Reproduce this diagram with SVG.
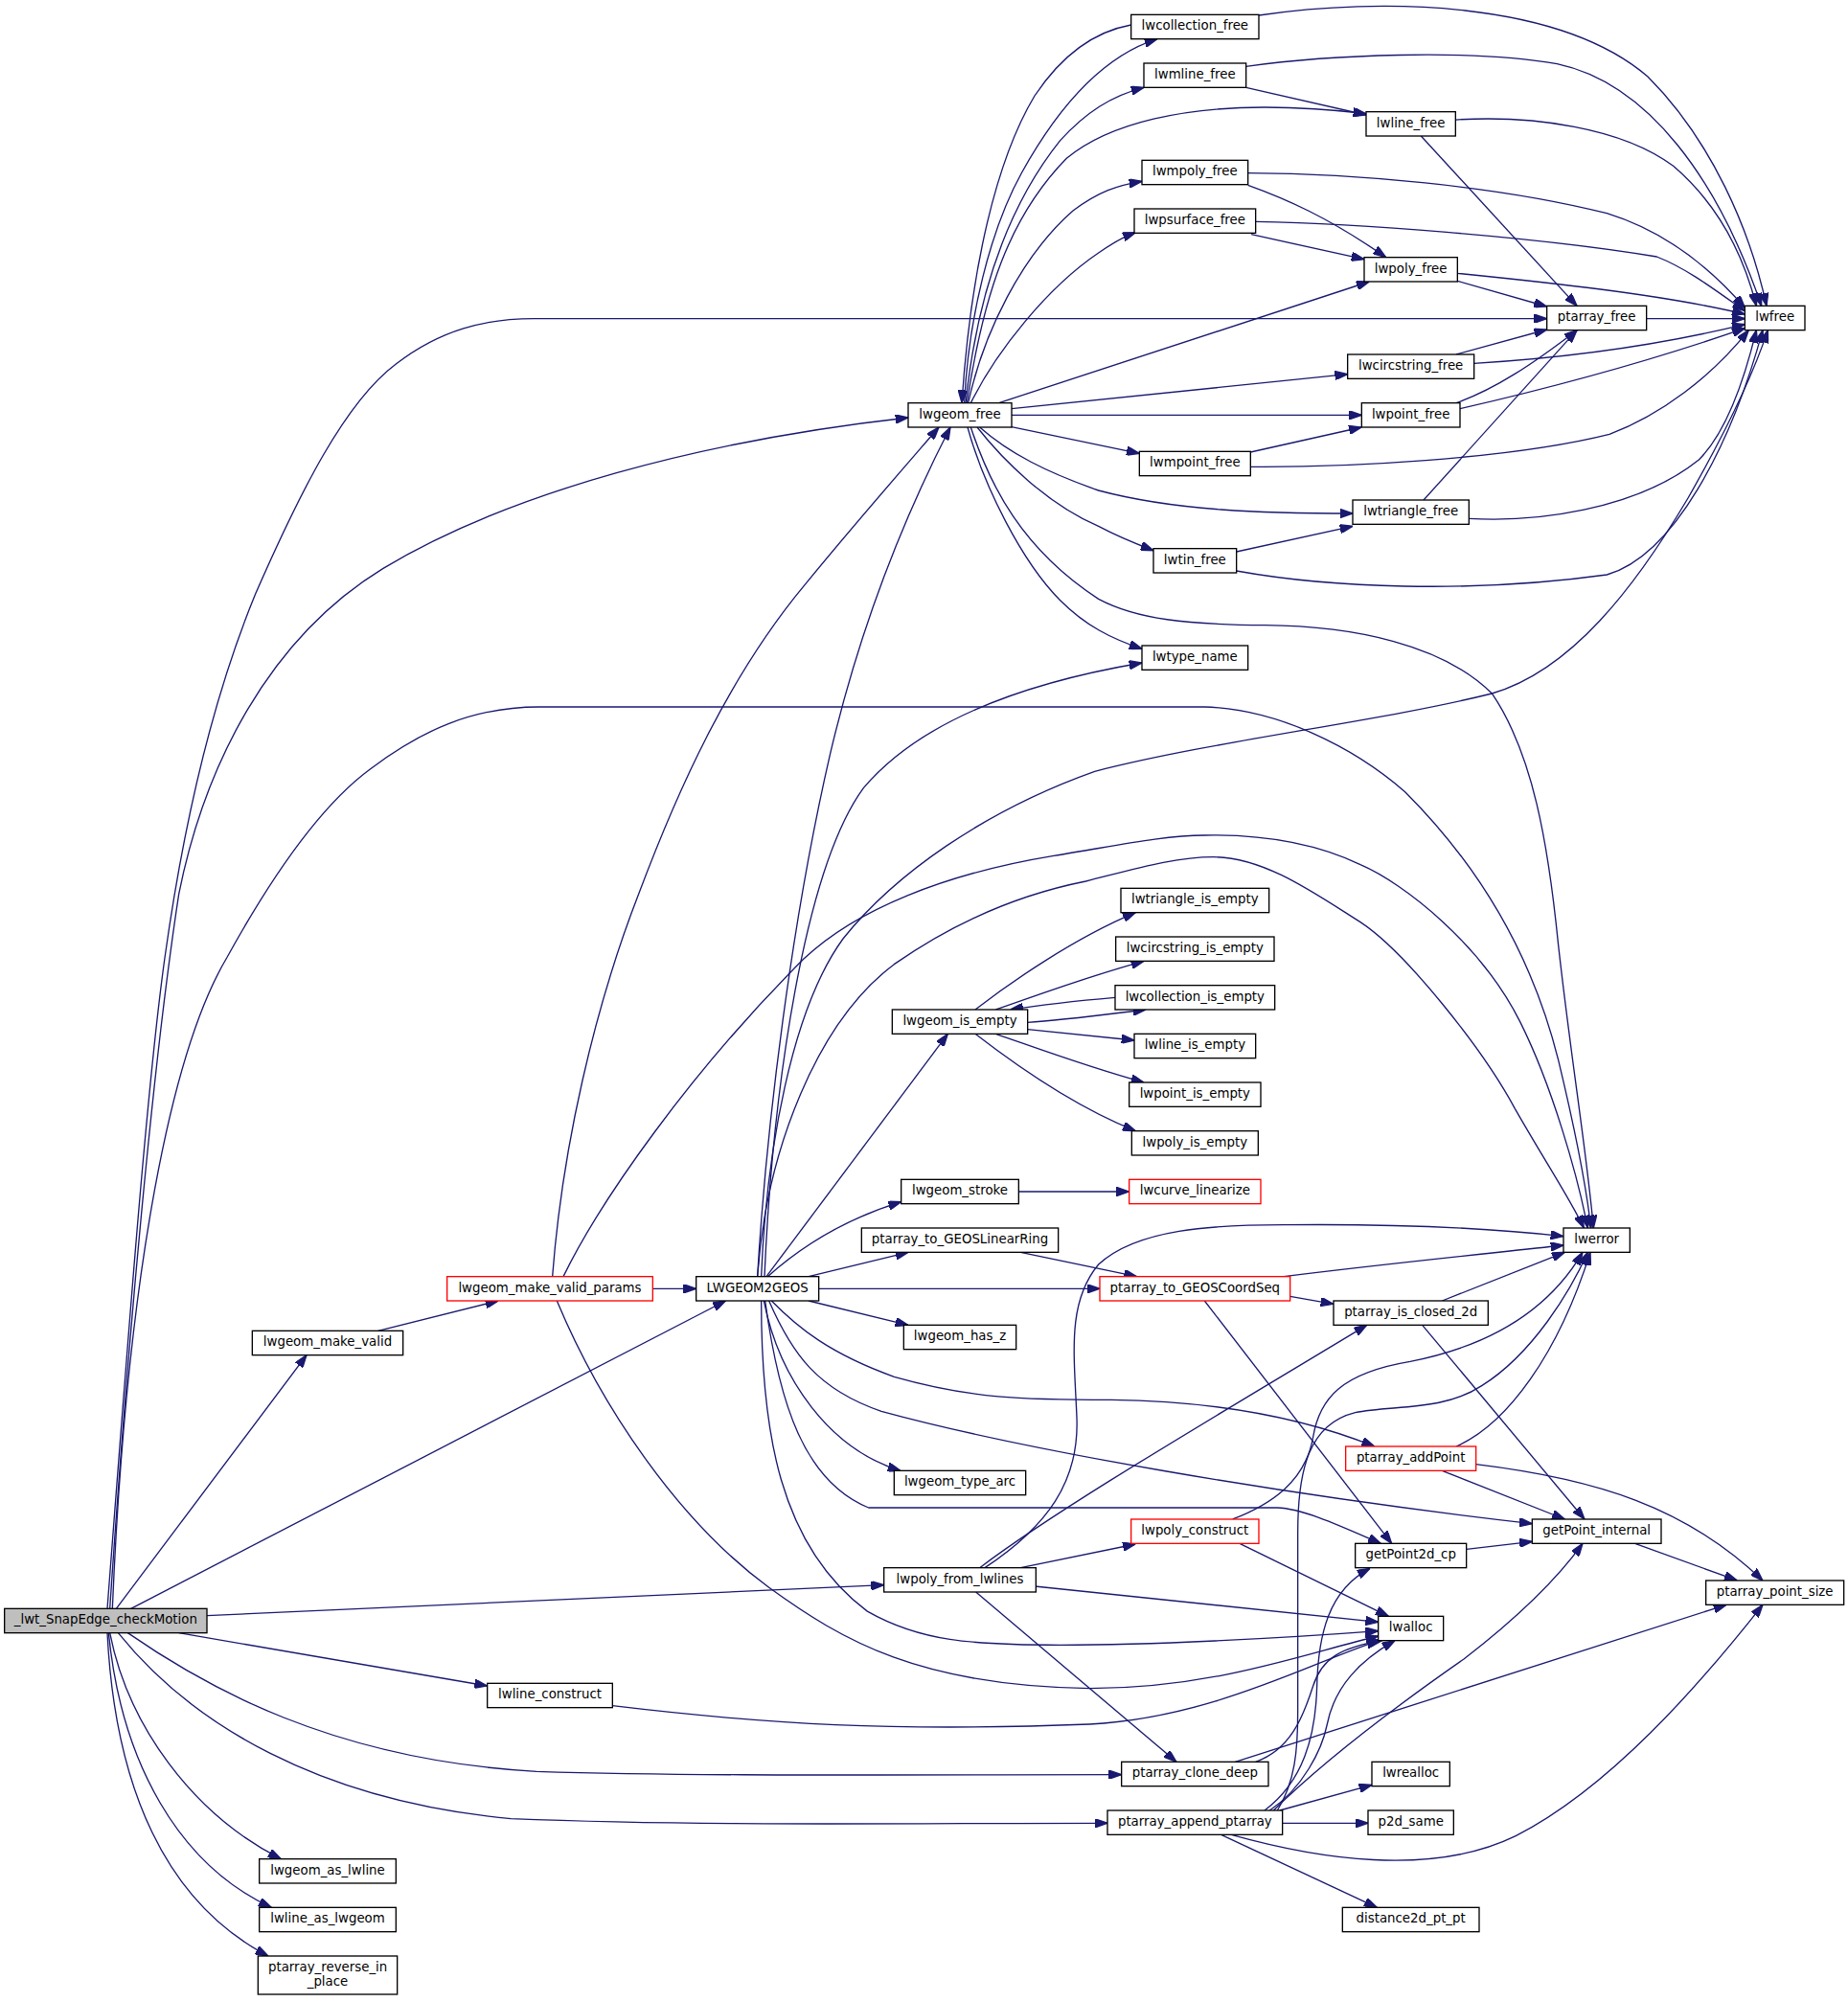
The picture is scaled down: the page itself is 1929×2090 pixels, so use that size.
<svg xmlns="http://www.w3.org/2000/svg" width="1929" height="2090" viewBox="0 0 1929 2090">
<style>
.n rect{fill:#ffffff;stroke:#000000;stroke-width:1}
.r rect{fill:#ffffff;stroke:#ff0000;stroke-width:1}
.m rect{fill:#bfbfbf;stroke:#000000;stroke-width:1}
text{font-family:"DejaVu Sans","Liberation Sans",sans-serif;font-size:10px;fill:#000000;text-anchor:middle}
.e{fill:none;stroke:#191970;stroke-width:1}
</style>
<defs>
<marker id="a" markerUnits="userSpaceOnUse" viewBox="0 0 10 7" markerWidth="10" markerHeight="7" refX="10" refY="3.5" orient="auto">
<path d="M0,0 L10,3.5 L0,7 Z" fill="#191970" stroke="#191970" stroke-width="1"/>
</marker>
</defs>
<rect x="0" y="0" width="1929" height="2090" fill="#ffffff"/>
<g transform="scale(1.33333)">
<g id="edges">
<!-- main -->
<path class="e" marker-end="url(#a)" d="M91,1259.5 L240,1061"/>
<path class="e" marker-end="url(#a)" d="M102.5,1259.5 L568,1018.5"/>
<path class="e" marker-end="url(#a)" d="M162,1265 L692,1241"/>
<path class="e" marker-end="url(#a)" d="M140,1278.5 L381.5,1320"/>
<path class="e" marker-end="url(#a)" d="M100,1278.5 C160,1320 260,1378 420,1387 C550,1391 700,1389.5 878,1389.5"/>
<path class="e" marker-end="url(#a)" d="M92.5,1278.5 C150,1350 250,1410 400,1424 C550,1430 700,1427.5 867,1427.5"/>
<path class="e" marker-end="url(#a)" d="M86,1278.5 C100,1350 150,1420 220,1455.5"/>
<path class="e" marker-end="url(#a)" d="M85,1278.5 C95,1380 140,1460 212.5,1493.5"/>
<path class="e" marker-end="url(#a)" d="M84,1278.5 C90,1400 130,1490 210,1531.5"/>
<path class="e" marker-end="url(#a)" d="M84,1259.5 C100,1050 115,850 129,750 C143,650 165,550 200,465 C235,385 270,315 310,285 C345,258 380,249.5 418,249.5 L1211,249.5"/>
<path class="e" marker-end="url(#a)" d="M86,1259.5 C100,1050 120,830 140,700 C160,600 210,500 300,445 C400,385 550,345 711,327"/>
<path class="e" marker-end="url(#a)" d="M88,1259.5 C98,1020 130,830 177.5,750 C205,700 245,635 290,602 C330,572 370,553.5 422,553.5 L943,553.5 C1000,555 1060,585 1100,620 C1160,680 1200,750 1220,830 C1232,880 1242,930 1245.5,961.5"/>
<!-- lwgeom_make_valid -->
<path class="e" marker-end="url(#a)" d="M296,1042 L390,1018.5"/>
<!-- lwgeom_make_valid_params -->
<path class="e" marker-end="url(#a)" d="M511,1009 L545,1009"/>
<path class="e" marker-end="url(#a)" d="M432.5,999.5 C440,900 465,790 500,700 C530,620 570,530 630,458 C665,415 700,375 735,334.5"/>
<path class="e" marker-end="url(#a)" d="M441,999.5 C470,940 540,840 629,751 C670,712 740,684 825,670 C870,663 910,654 943,654 C1000,653 1040,665 1065,677 C1100,692 1160,740 1190,800 C1215,850 1235,920 1243,961.5"/>
<path class="e" marker-end="url(#a)" d="M436,1018.5 C470,1100 530,1190 602,1243 C660,1285 720,1320 853,1322 C950,1322 1020,1295 1079,1281"/>
<!-- LWGEOM2GEOS -->
<path class="e" marker-end="url(#a)" d="M593,999.5 C600,880 620,720 650,590 C670,505 700,420 744,334.5"/>
<path class="e" marker-end="url(#a)" d="M598.5,999.5 C605,850 630,680 676,617 C720,565 800,535 894,519"/>
<path class="e" marker-end="url(#a)" d="M596,999.5 C600,900 620,790 660,735 C700,685 770,635 857,604 C950,580 1080,565 1168,543 C1230,525 1280,460 1321.5,390 C1350,340 1372,295 1384,258.5"/>
<path class="e" marker-end="url(#a)" d="M593,999.5 C600,900 640,800 700,755 C750,720 800,700 850,690 C890,680 920,671 950,671 C990,671 1030,700 1065,722 C1100,745 1160,820 1186,868 C1210,910 1230,940 1240,961.5"/>
<path class="e" marker-end="url(#a)" d="M600,999.5 L742,809.5"/>
<path class="e" marker-end="url(#a)" d="M601,999.5 C625,978 660,955 705.5,941"/>
<path class="e" marker-end="url(#a)" d="M633,999.5 L711,980.5"/>
<path class="e" marker-end="url(#a)" d="M641,1009 L861,1009"/>
<path class="e" marker-end="url(#a)" d="M633,1018.5 L711,1037.5"/>
<path class="e" marker-end="url(#a)" d="M604,1018.5 C625,1040 650,1060 700,1078 C760,1095 800,1096 870,1096 C950,1097 1020,1110 1076,1132.5"/>
<path class="e" marker-end="url(#a)" d="M602,1018.5 C620,1060 640,1088 690,1105 C800,1135 1000,1170 1199.5,1193"/>
<path class="e" marker-end="url(#a)" d="M598,1018.5 C610,1080 650,1135 705,1151.5"/>
<path class="e" marker-end="url(#a)" d="M599,1018.5 C610,1100 630,1160 680,1180.5 L1000,1180.5 C1020,1181 1050,1195 1081,1208.5"/>
<path class="e" marker-end="url(#a)" d="M596,1018.5 C596,1120 610,1210 679,1261.6 C720,1285 760,1288 830,1288 C900,1288 1000,1283 1079,1277"/>
<!-- lwgeom_free -->
<path class="e" marker-end="url(#a)" d="M755,315.5 C758,250 775,180 800,135 C825,90 860,45 906,30.5"/>
<path class="e" marker-end="url(#a)" d="M885.5,19.5 C855,25 830,45 810,75 C780,125 760,210 753,315.5"/>
<path class="e" marker-end="url(#a)" d="M756,315.5 C765,230 790,160 830,110 C850,88 870,75 895.5,68.5"/>
<path class="e" marker-end="url(#a)" d="M757,315.5 C770,230 790,170 835,124 C870,95 930,84 990,84 C1020,84 1045,86 1069.5,89"/>
<path class="e" marker-end="url(#a)" d="M758,315.5 C770,260 800,200 840,165 C860,150 875,145 894,142"/>
<path class="e" marker-end="url(#a)" d="M760,315.5 C780,275 820,225 860,198 C870,191 878,186 889,182"/>
<path class="e" marker-end="url(#a)" d="M782,315.5 L1072,220.5"/>
<path class="e" marker-end="url(#a)" d="M792,320 L1055,293"/>
<path class="e" marker-end="url(#a)" d="M792,325 L1066,325"/>
<path class="e" marker-end="url(#a)" d="M791,334 L892,355"/>
<path class="e" marker-end="url(#a)" d="M767,334.5 C790,355 820,370 860,384 C920,400 990,402 1059,402"/>
<path class="e" marker-end="url(#a)" d="M765,334.5 C785,360 820,395 860,412 C875,420 890,426 903,431"/>
<path class="e" marker-end="url(#a)" d="M757.5,334.5 C770,380 800,440 830,470 C850,490 870,500 894,508"/>
<path class="e" marker-end="url(#a)" d="M760,334.5 C775,380 800,430 860,469 C890,485 930,489 990,489.5 C1060,490 1130,505 1168,543 C1200,590 1212,660 1220,740 C1230,830 1242,900 1247.5,961.5"/>
<!-- free functions -->
<path class="e" marker-end="url(#a)" d="M985.5,12 C1080,-2 1220,0 1290,60 C1340,110 1370,180 1383,239.5"/>
<path class="e" marker-end="url(#a)" d="M975.5,52 C1040,43 1150,38 1219,50 C1290,65 1345,140 1379,239.5"/>
<path class="e" marker-end="url(#a)" d="M975.5,68.5 L1069.5,90"/>
<path class="e" marker-end="url(#a)" d="M1139.5,93.8 C1200,90 1270,100 1310,130 C1345,160 1365,200 1375,239.5"/>
<path class="e" marker-end="url(#a)" d="M1112.5,106.5 L1234.5,239.5"/>
<path class="e" marker-end="url(#a)" d="M977,135.5 C1060,136 1170,145 1258,167 C1300,180 1335,205 1366,241"/>
<path class="e" marker-end="url(#a)" d="M977,145 C1005,155 1040,170 1085,201.5"/>
<path class="e" marker-end="url(#a)" d="M983,173.5 C1060,175 1200,185 1297,201 C1320,210 1340,225 1366,243.5"/>
<path class="e" marker-end="url(#a)" d="M979.6,183.5 L1068,203"/>
<path class="e" marker-end="url(#a)" d="M1141,214 C1200,220 1300,230 1366,246"/>
<path class="e" marker-end="url(#a)" d="M1141,220 L1211,240"/>
<path class="e" marker-end="url(#a)" d="M1289,249.5 L1366,249.5"/>
<path class="e" marker-end="url(#a)" d="M1140,277.5 L1211,258"/>
<path class="e" marker-end="url(#a)" d="M1154,284.5 C1230,280 1300,270 1366,254"/>
<path class="e" marker-end="url(#a)" d="M1140,315.5 C1170,305 1200,285 1234.5,258.5"/>
<path class="e" marker-end="url(#a)" d="M1143,320 C1230,300 1300,280 1366,257"/>
<path class="e" marker-end="url(#a)" d="M979,354 L1066,334.5"/>
<path class="e" marker-end="url(#a)" d="M979,365.5 C1050,366 1180,360 1260,340 C1300,325 1340,295 1369,258.5"/>
<path class="e" marker-end="url(#a)" d="M1114.5,391.5 L1234.5,258.5"/>
<path class="e" marker-end="url(#a)" d="M1150,406 C1200,409 1280,400 1330,360 C1350,340 1365,300 1375,258.5"/>
<path class="e" marker-end="url(#a)" d="M968,432 L1059,412"/>
<path class="e" marker-end="url(#a)" d="M968,447 C1040,460 1150,465 1258,450 C1310,435 1355,350 1380,258.5"/>
<!-- lwgeom_is_empty -->
<path class="e" marker-end="url(#a)" d="M763.5,790.5 C790,770 840,735 889,714.5"/>
<path class="e" marker-end="url(#a)" d="M779.5,790.5 C810,780 850,765 895.5,752.5"/>
<path class="e" marker-end="url(#a)" d="M873,781 C850,783 820,786 791,790.5"/>
<path class="e" marker-end="url(#a)" d="M804.5,800.5 C830,799 860,795 897,790.5"/>
<path class="e" marker-end="url(#a)" d="M804.5,806 L888,814.5"/>
<path class="e" marker-end="url(#a)" d="M779.5,809.5 C810,820 850,835 895.5,847.5"/>
<path class="e" marker-end="url(#a)" d="M763.5,809.5 C790,830 840,866 889,885.5"/>
<path class="e" marker-end="url(#a)" d="M797.5,933 L884,933"/>
<!-- GEOS conversion -->
<path class="e" marker-end="url(#a)" d="M799,980.5 L890,999.5"/>
<path class="e" marker-end="url(#a)" d="M1005,999.5 C1080,990 1160,982 1224,975"/>
<path class="e" marker-end="url(#a)" d="M1010,1015 L1044,1021"/>
<path class="e" marker-end="url(#a)" d="M943,1018.5 L1089.5,1208.5"/>
<path class="e" marker-end="url(#a)" d="M1129,1018.5 L1225,980.5"/>
<path class="e" marker-end="url(#a)" d="M1113.5,1037.5 L1240.5,1189.5"/>
<!-- ptarray_addPoint -->
<path class="e" marker-end="url(#a)" d="M1140,1132.5 C1180,1115 1220,1060 1245,980.5"/>
<path class="e" marker-end="url(#a)" d="M1129,1151.5 L1225,1189.5"/>
<path class="e" marker-end="url(#a)" d="M1155.5,1146.5 C1250,1158 1320,1180 1380,1237.5"/>
<path class="e" marker-end="url(#a)" d="M1148,1213 L1199.5,1207"/>
<path class="e" marker-end="url(#a)" d="M1280,1208.5 L1360,1237.5"/>
<!-- lwpoly_from_lwlines -->
<path class="e" marker-end="url(#a)" d="M799,1227.5 L889,1209"/>
<path class="e" marker-end="url(#a)" d="M810,1242 L1079,1270"/>
<path class="e" marker-end="url(#a)" d="M764,1246.5 L921,1379.5"/>
<path class="e" marker-end="url(#a)" d="M767,1227.5 C830,1180 950,1110 1070,1037.5"/>
<path class="e" marker-end="url(#a)" d="M771,1227.5 C820,1195 845,1160 843,1110 C841,1060 835,1020 860,990 C890,962 950,959 1005,959 C1100,958 1170,962 1224,968"/>
<!-- lwpoly_construct -->
<path class="e" marker-end="url(#a)" d="M965,1189.5 C995,1178 1022,1160 1028,1125 C1033,1095 1050,1075 1104,1066 C1160,1055 1210,1030 1239,980.5"/>
<path class="e" marker-end="url(#a)" d="M970.5,1208.5 L1087,1265.5"/>
<!-- lwline_construct -->
<path class="e" marker-end="url(#a)" d="M479.5,1335.5 C600,1350 700,1356 853,1350 C950,1345 1030,1300 1080,1284.5"/>
<!-- ptarray_clone_deep -->
<path class="e" marker-end="url(#a)" d="M983,1379.5 C1010,1370 1020,1345 1028,1320 C1035,1298 1050,1290 1082,1284.5"/>
<path class="e" marker-end="url(#a)" d="M967,1379.5 L1351.5,1256.5"/>
<!-- ptarray_append_ptarray -->
<path class="e" marker-end="url(#a)" d="M1001.8,1417.5 L1074,1397.5"/>
<path class="e" marker-end="url(#a)" d="M1004,1427.5 L1071,1427.5"/>
<path class="e" marker-end="url(#a)" d="M956,1436.5 L1078,1493.5"/>
<path class="e" marker-end="url(#a)" d="M964,1436.5 C1030,1455 1120,1470 1186.6,1437.5 C1260,1400 1330,1320 1380,1256.5"/>
<path class="e" marker-end="url(#a)" d="M994,1417.5 C1020,1400 1035,1370 1039,1350 C1045,1320 1065,1300 1092,1284.5"/>
<path class="e" marker-end="url(#a)" d="M997,1417.5 C1030,1385 1080,1345 1146,1299 C1190,1265 1220,1235 1239,1208.5"/>
<path class="e" marker-end="url(#a)" d="M990,1417.5 C1020,1395 1030,1360 1031,1320 C1032,1280 1040,1245 1072.5,1228"/>
<path class="e" marker-end="url(#a)" d="M1000,1417.5 C1014,1395 1016,1370 1016,1340 L1016,1200 C1016,1150 1025,1115 1061,1106 C1090,1100 1130,1105 1160,1085 C1200,1060 1230,1010 1243,980.5"/>
</g>
<g id="n_main" class="m"><rect x="3.5" y="1259.5" width="158.5" height="19"/><text x="82.75" y="1271.5">_lwt_SnapEdge_checkMotion</text></g>
<g id="n_lwgeom_make_valid" class="n"><rect x="197.5" y="1042" width="118" height="19"/><text x="256.5" y="1054">lwgeom_make_valid</text></g>
<g id="n_lwgeom_as_lwline" class="n"><rect x="203" y="1455.5" width="107" height="19"/><text x="256.5" y="1467.5">lwgeom_as_lwline</text></g>
<g id="n_lwline_as_lwgeom" class="n"><rect x="203" y="1493.5" width="107" height="19"/><text x="256.5" y="1505.5">lwline_as_lwgeom</text></g>
<g id="n_ptarray_reverse_in_place" class="n"><rect x="202" y="1531.5" width="109" height="30"/><text x="210" y="1543.5" style="text-anchor:start">ptarray_reverse_in</text><text x="256.5" y="1554.5">_place</text></g>
<g id="n_lwgeom_make_valid_params" class="r"><rect x="350" y="999.5" width="161" height="19"/><text x="430.5" y="1011.5">lwgeom_make_valid_params</text></g>
<g id="n_lwline_construct" class="n"><rect x="381.5" y="1318" width="98" height="19"/><text x="430.5" y="1330">lwline_construct</text></g>
<g id="n_LWGEOM2GEOS" class="n"><rect x="545" y="999.5" width="96" height="19"/><text x="593" y="1011.5">LWGEOM2GEOS</text></g>
<g id="n_lwgeom_free" class="n"><rect x="711" y="315.5" width="81" height="19"/><text x="751.5" y="327.5">lwgeom_free</text></g>
<g id="n_lwgeom_is_empty" class="n"><rect x="698.5" y="790.5" width="106" height="19"/><text x="751.5" y="802.5">lwgeom_is_empty</text></g>
<g id="n_lwgeom_stroke" class="n"><rect x="705.5" y="923.5" width="92" height="19"/><text x="751.5" y="935.5">lwgeom_stroke</text></g>
<g id="n_ptarray_to_GEOSLinearRing" class="n"><rect x="674.5" y="961.5" width="154" height="19"/><text x="751.5" y="973.5">ptarray_to_GEOSLinearRing</text></g>
<g id="n_lwgeom_has_z" class="n"><rect x="707.5" y="1037.5" width="88" height="19"/><text x="751.5" y="1049.5">lwgeom_has_z</text></g>
<g id="n_lwgeom_type_arc" class="n"><rect x="700" y="1151.5" width="103" height="19"/><text x="751.5" y="1163.5">lwgeom_type_arc</text></g>
<g id="n_lwpoly_from_lwlines" class="n"><rect x="692" y="1227.5" width="119" height="19"/><text x="751.5" y="1239.5">lwpoly_from_lwlines</text></g>
<g id="n_lwcollection_free" class="n"><rect x="885.5" y="11.5" width="100" height="19"/><text x="935.5" y="23.5">lwcollection_free</text></g>
<g id="n_lwmline_free" class="n"><rect x="895.5" y="49.5" width="80" height="19"/><text x="935.5" y="61.5">lwmline_free</text></g>
<g id="n_lwmpoly_free" class="n"><rect x="894" y="125.5" width="83" height="19"/><text x="935.5" y="137.5">lwmpoly_free</text></g>
<g id="n_lwpsurface_free" class="n"><rect x="888" y="163.5" width="95" height="19"/><text x="935.5" y="175.5">lwpsurface_free</text></g>
<g id="n_lwmpoint_free" class="n"><rect x="892" y="353.5" width="87" height="19"/><text x="935.5" y="365.5">lwmpoint_free</text></g>
<g id="n_lwtin_free" class="n"><rect x="903" y="429.5" width="65" height="19"/><text x="935.5" y="441.5">lwtin_free</text></g>
<g id="n_lwtype_name" class="n"><rect x="894" y="505.5" width="83" height="19"/><text x="935.5" y="517.5">lwtype_name</text></g>
<g id="n_lwtriangle_is_empty" class="n"><rect x="877.5" y="695.5" width="116" height="19"/><text x="935.5" y="707.5">lwtriangle_is_empty</text></g>
<g id="n_lwcircstring_is_empty" class="n"><rect x="873.5" y="733.5" width="124" height="19"/><text x="935.5" y="745.5">lwcircstring_is_empty</text></g>
<g id="n_lwcollection_is_empty" class="n"><rect x="873" y="771.5" width="125" height="19"/><text x="935.5" y="783.5">lwcollection_is_empty</text></g>
<g id="n_lwline_is_empty" class="n"><rect x="888" y="809.5" width="95" height="19"/><text x="935.5" y="821.5">lwline_is_empty</text></g>
<g id="n_lwpoint_is_empty" class="n"><rect x="884" y="847.5" width="103" height="19"/><text x="935.5" y="859.5">lwpoint_is_empty</text></g>
<g id="n_lwpoly_is_empty" class="n"><rect x="886" y="885.5" width="99" height="19"/><text x="935.5" y="897.5">lwpoly_is_empty</text></g>
<g id="n_lwcurve_linearize" class="r"><rect x="884" y="923.5" width="103" height="19"/><text x="935.5" y="935.5">lwcurve_linearize</text></g>
<g id="n_ptarray_to_GEOSCoordSeq" class="r"><rect x="861" y="999.5" width="149" height="19"/><text x="935.5" y="1011.5">ptarray_to_GEOSCoordSeq</text></g>
<g id="n_lwpoly_construct" class="r"><rect x="885.5" y="1189.5" width="100" height="19"/><text x="935.5" y="1201.5">lwpoly_construct</text></g>
<g id="n_ptarray_clone_deep" class="n"><rect x="878" y="1379.5" width="115" height="19"/><text x="935.5" y="1391.5">ptarray_clone_deep</text></g>
<g id="n_ptarray_append_ptarray" class="n"><rect x="867" y="1417.5" width="137" height="19"/><text x="935.5" y="1429.5">ptarray_append_ptarray</text></g>
<g id="n_lwline_free" class="n"><rect x="1069.5" y="87.5" width="70" height="19"/><text x="1104.5" y="99.5">lwline_free</text></g>
<g id="n_lwpoly_free" class="n"><rect x="1068" y="201.5" width="73" height="19"/><text x="1104.5" y="213.5">lwpoly_free</text></g>
<g id="n_lwcircstring_free" class="n"><rect x="1055" y="277.5" width="99" height="19"/><text x="1104.5" y="289.5">lwcircstring_free</text></g>
<g id="n_lwpoint_free" class="n"><rect x="1066" y="315.5" width="77" height="19"/><text x="1104.5" y="327.5">lwpoint_free</text></g>
<g id="n_lwtriangle_free" class="n"><rect x="1059" y="391.5" width="91" height="19"/><text x="1104.5" y="403.5">lwtriangle_free</text></g>
<g id="n_ptarray_is_closed_2d" class="n"><rect x="1044" y="1018.5" width="121" height="19"/><text x="1104.5" y="1030.5">ptarray_is_closed_2d</text></g>
<g id="n_ptarray_addPoint" class="r"><rect x="1053.5" y="1132.5" width="102" height="19"/><text x="1104.5" y="1144.5">ptarray_addPoint</text></g>
<g id="n_getPoint2d_cp" class="n"><rect x="1061" y="1208.5" width="87" height="19"/><text x="1104.5" y="1220.5">getPoint2d_cp</text></g>
<g id="n_lwalloc" class="n"><rect x="1079" y="1265.5" width="51" height="19"/><text x="1104.5" y="1277.5">lwalloc</text></g>
<g id="n_lwrealloc" class="n"><rect x="1074" y="1379.5" width="61" height="19"/><text x="1104.5" y="1391.5">lwrealloc</text></g>
<g id="n_p2d_same" class="n"><rect x="1071" y="1417.5" width="67" height="19"/><text x="1104.5" y="1429.5">p2d_same</text></g>
<g id="n_distance2d_pt_pt" class="n"><rect x="1051" y="1493.5" width="107" height="19"/><text x="1104.5" y="1505.5">distance2d_pt_pt</text></g>
<g id="n_ptarray_free" class="n"><rect x="1211" y="239.5" width="78" height="19"/><text x="1250" y="251.5">ptarray_free</text></g>
<g id="n_lwerror" class="n"><rect x="1224" y="961.5" width="52" height="19"/><text x="1250" y="973.5">lwerror</text></g>
<g id="n_getPoint_internal" class="n"><rect x="1199.5" y="1189.5" width="101" height="19"/><text x="1250" y="1201.5">getPoint_internal</text></g>
<g id="n_lwfree" class="n"><rect x="1366" y="239.5" width="47" height="19"/><text x="1389.5" y="251.5">lwfree</text></g>
<g id="n_ptarray_point_size" class="n"><rect x="1335.5" y="1237.5" width="108" height="19"/><text x="1389.5" y="1249.5">ptarray_point_size</text></g>
</g>
</svg>
